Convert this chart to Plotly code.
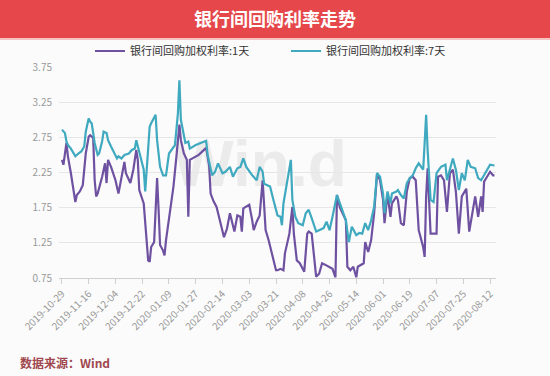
import plotly.graph_objects as go

title_text = "银行间回购利率走势"
series_1d_name = "银行间回购加权利率:1天"
series_7d_name = "银行间回购加权利率:7天"
source_text = "数据来源：Wind"
watermark_text = "Win.d"

dates_1d = [
    "2019-10-29", "2019-10-30", "2019-11-01", "2019-11-02", "2019-11-04", "2019-11-07", "2019-11-08",
    "2019-11-10", "2019-11-12", "2019-11-14", "2019-11-16", "2019-11-17", "2019-11-19", "2019-11-20",
    "2019-11-21", "2019-11-22", "2019-11-25", "2019-11-27", "2019-11-28", "2019-11-29", "2019-12-01",
    "2019-12-04", "2019-12-06", "2019-12-08", "2019-12-10", "2019-12-11", "2019-12-14", "2019-12-16",
    "2019-12-18", "2019-12-19", "2019-12-20", "2019-12-23", "2019-12-24", "2019-12-26", "2019-12-27",
    "2019-12-28", "2019-12-30", "2020-01-01", "2020-01-02", "2020-01-03", "2020-01-05", "2020-01-06",
    "2020-01-07", "2020-01-10", "2020-01-12", "2020-01-14", "2020-01-16", "2020-01-17", "2020-01-19",
    "2020-01-21", "2020-01-22", "2020-01-23", "2020-01-25", "2020-01-29", "2020-02-03", "2020-02-05",
    "2020-02-06", "2020-02-08", "2020-02-10", "2020-02-12", "2020-02-15", "2020-02-17", "2020-02-19",
    "2020-02-22", "2020-02-24", "2020-02-26", "2020-02-27", "2020-02-28", "2020-03-01", "2020-03-03",
    "2020-03-05", "2020-03-06", "2020-03-08", "2020-03-10", "2020-03-12", "2020-03-13", "2020-03-14",
    "2020-03-16", "2020-03-18", "2020-03-21", "2020-03-22", "2020-03-24", "2020-03-26", "2020-03-27",
    "2020-03-30", "2020-04-01", "2020-04-02", "2020-04-04", "2020-04-06", "2020-04-09", "2020-04-11",
    "2020-04-12", "2020-04-14", "2020-04-17", "2020-04-19", "2020-04-21", "2020-04-23", "2020-04-26",
    "2020-04-28", "2020-04-30", "2020-05-01", "2020-05-03", "2020-05-06", "2020-05-07", "2020-05-08",
    "2020-05-10", "2020-05-12", "2020-05-14", "2020-05-15", "2020-05-17", "2020-05-19", "2020-05-20",
    "2020-05-22", "2020-05-24", "2020-05-26", "2020-05-28", "2020-05-30", "2020-06-01", "2020-06-02",
    "2020-06-04", "2020-06-06", "2020-06-07", "2020-06-10", "2020-06-11", "2020-06-13", "2020-06-15",
    "2020-06-17", "2020-06-19", "2020-06-21", "2020-06-23", "2020-06-25", "2020-06-28", "2020-06-29",
    "2020-06-30", "2020-07-01", "2020-07-03", "2020-07-07", "2020-07-08", "2020-07-10", "2020-07-12",
    "2020-07-14", "2020-07-16", "2020-07-18", "2020-07-20", "2020-07-22", "2020-07-24", "2020-07-27",
    "2020-07-29", "2020-07-31", "2020-08-02", "2020-08-04", "2020-08-06", "2020-08-07", "2020-08-08",
    "2020-08-10", "2020-08-12", "2020-08-14", "2020-08-15",
]
rate_1d = [
    2.43, 2.36, 2.67, 2.48, 2.24, 1.83, 1.93,
    1.98, 2.07, 2.52, 2.76, 2.78, 2.74, 2.14,
    1.91, 1.95, 2.19, 2.38, 2.10, 2.43, 2.33,
    2.14, 1.95, 2.19, 2.40, 2.24, 2.10, 2.29,
    2.57, 2.43, 2.00, 1.81, 1.57, 1.00, 0.98,
    1.19, 1.26, 2.17, 1.72, 1.22, 1.14, 1.07,
    1.29, 1.72, 2.05, 2.48, 2.93, 2.71, 2.52,
    2.43, 1.62, 2.43, 2.45, 2.50, 2.60, 2.35,
    1.95, 1.84, 1.76, 1.57, 1.33, 1.45, 1.67,
    1.41, 1.64, 1.62, 1.41, 1.74, 1.76, 1.79,
    1.57, 1.43, 1.55, 1.64, 2.14, 1.76, 1.43,
    1.29, 1.10, 0.86, 0.86, 0.88, 0.86, 1.10,
    1.38, 1.76, 1.38, 1.00, 0.96, 0.84, 1.38,
    1.41, 1.38, 0.77, 0.81, 0.96, 0.94, 0.91,
    0.88, 0.76, 1.93, 1.75, 1.61, 1.57, 0.91,
    0.86, 0.91, 0.76, 0.91, 0.94, 0.96, 1.26,
    1.12, 1.29, 1.67, 2.24, 2.14, 1.86, 1.53,
    1.95, 1.62, 1.81, 1.91, 1.86, 1.53, 1.50,
    1.98, 2.17, 2.19, 2.14, 1.43, 1.19, 1.05,
    1.91, 2.31, 1.38, 1.38, 2.19, 2.21, 2.14,
    1.69, 2.24, 2.29, 1.98, 1.38, 1.91, 2.02,
    1.41, 1.67, 1.91, 1.62, 1.91, 1.69, 2.12,
    2.19, 2.26, 2.21, 2.21,
]

dates_7d = [
    "2019-10-29", "2019-10-31", "2019-11-01", "2019-11-02", "2019-11-04", "2019-11-07", "2019-11-09",
    "2019-11-11", "2019-11-13", "2019-11-14", "2019-11-16", "2019-11-17", "2019-11-18", "2019-11-20",
    "2019-11-22", "2019-11-23", "2019-11-25", "2019-11-26", "2019-11-28", "2019-11-29", "2019-12-01",
    "2019-12-04", "2019-12-05", "2019-12-06", "2019-12-08", "2019-12-10", "2019-12-13", "2019-12-15",
    "2019-12-17", "2019-12-18", "2019-12-19", "2019-12-21", "2019-12-23", "2019-12-24", "2019-12-26",
    "2019-12-27", "2019-12-28", "2019-12-30", "2019-12-31", "2020-01-01", "2020-01-03", "2020-01-05",
    "2020-01-07", "2020-01-09", "2020-01-11", "2020-01-13", "2020-01-15", "2020-01-16", "2020-01-17",
    "2020-01-19", "2020-01-20", "2020-01-22", "2020-01-23", "2020-01-27", "2020-02-03", "2020-02-04",
    "2020-02-05", "2020-02-07", "2020-02-09", "2020-02-11", "2020-02-14", "2020-02-16", "2020-02-19",
    "2020-02-21", "2020-02-24", "2020-02-26", "2020-02-28", "2020-03-01", "2020-03-05", "2020-03-08",
    "2020-03-10", "2020-03-12", "2020-03-13", "2020-03-15", "2020-03-17", "2020-03-19", "2020-03-22",
    "2020-03-24", "2020-03-25", "2020-03-26", "2020-03-28", "2020-03-31", "2020-04-01", "2020-04-03",
    "2020-04-05", "2020-04-08", "2020-04-10", "2020-04-12", "2020-04-14", "2020-04-17", "2020-04-19",
    "2020-04-22", "2020-04-24", "2020-04-26", "2020-04-28", "2020-05-01", "2020-05-03", "2020-05-07",
    "2020-05-09", "2020-05-11", "2020-05-14", "2020-05-16", "2020-05-18", "2020-05-20", "2020-05-22",
    "2020-05-24", "2020-05-26", "2020-05-28", "2020-05-30", "2020-06-01", "2020-06-02", "2020-06-04",
    "2020-06-06", "2020-06-07", "2020-06-10", "2020-06-11", "2020-06-13", "2020-06-15", "2020-06-17",
    "2020-06-19", "2020-06-21", "2020-06-23", "2020-06-25", "2020-06-27", "2020-06-28", "2020-06-29",
    "2020-06-30", "2020-07-01", "2020-07-03", "2020-07-05", "2020-07-07", "2020-07-10", "2020-07-13",
    "2020-07-14", "2020-07-16", "2020-07-18", "2020-07-20", "2020-07-22", "2020-07-24", "2020-07-26",
    "2020-07-28", "2020-07-30", "2020-08-02", "2020-08-04", "2020-08-06", "2020-08-08", "2020-08-11",
    "2020-08-12", "2020-08-15",
]
rate_7d = [
    2.86, 2.81, 2.69, 2.64, 2.59, 2.48, 2.52,
    2.55, 2.62, 2.83, 3.02, 2.97, 2.95, 2.67,
    2.50, 2.52, 2.69, 2.83, 2.81, 2.71, 2.62,
    2.48, 2.45, 2.48, 2.45, 2.50, 2.52, 2.57,
    2.59, 2.71, 2.62, 2.43, 2.29, 1.98, 2.52,
    2.90, 2.95, 3.02, 3.07, 2.71, 2.33, 2.21,
    2.21, 2.52, 2.59, 2.64, 3.09, 3.56, 3.00,
    2.76, 2.67, 2.69, 2.59, 2.64, 2.70, 2.50,
    2.40, 2.21, 2.26, 2.38, 2.24, 2.26, 2.33,
    2.19, 2.31, 2.33, 2.45, 2.33, 2.21, 2.14,
    2.33, 2.26, 2.09, 2.07, 2.05, 1.88, 1.64,
    1.62, 1.50, 1.81, 2.05, 2.43, 1.86, 1.62,
    1.53, 1.50, 1.67, 1.72, 1.60, 1.41, 1.43,
    1.46, 1.55, 1.43, 1.62, 1.93, 1.81, 1.57,
    1.26, 1.48, 1.36, 1.39, 1.38, 1.53, 1.43,
    1.57, 1.76, 2.24, 2.19, 1.95, 1.67, 1.98,
    1.81, 1.95, 1.98, 2.00, 1.93, 1.88, 2.10,
    2.17, 2.21, 2.31, 2.38, 2.31, 2.29, 2.67,
    3.07, 2.57, 1.86, 1.83, 2.24, 2.33, 2.36,
    2.14, 2.29, 2.45, 2.29, 2.00, 2.24, 2.14,
    2.43, 2.33, 2.31, 2.17, 2.14, 2.21, 2.33,
    2.36, 2.35,
]

y_ticks = [0.75, 1.25, 1.75, 2.25, 2.75, 3.25, 3.75]
x_first_tick = "2019-10-29"
x_range = ["2019-10-27", "2020-08-16"]

FONT = "Noto Sans CJK SC, Noto Sans, sans-serif"
PURPLE = "#6e51a0"
TEAL = "#3ea9bf"

fig = go.Figure()
fig.add_trace(go.Scatter(x=dates_1d, y=rate_1d, mode="lines", name=series_1d_name,
                         line=dict(color=PURPLE, width=2.2)))
fig.add_trace(go.Scatter(x=dates_7d, y=rate_7d, mode="lines", name=series_7d_name,
                         line=dict(color=TEAL, width=2.2)))

W, H = 550, 376
ml, mr, mt, mb = 59, 54, 67, 98
pw, ph = W - ml - mr, H - mt - mb

def px_x(p):
    return (p - ml) / pw

def px_y(p):
    return (H - mb - p) / ph

shapes = [
    dict(type="rect", xref="paper", yref="paper", x0=px_x(0), x1=px_x(W), y0=px_y(38), y1=px_y(0),
         fillcolor="#e5474b", line=dict(width=0), layer="below"),
    dict(type="rect", xref="paper", yref="paper", x0=px_x(0), x1=px_x(W), y0=px_y(40), y1=px_y(38),
         fillcolor="#f6c3c3", line=dict(width=0), layer="below"),
    dict(type="rect", xref="paper", yref="paper", x0=px_x(180), x1=px_x(340), y0=px_y(196), y1=px_y(120),
         fillcolor="rgba(0,0,0,0)", line=dict(width=0), layer="below",
         label=dict(text="<b>" + watermark_text + "</b>",
                    font=dict(family="Liberation Sans Narrow, Liberation Sans, Arial", size=64, color="#ebebeb"),
                    textposition="middle center")),
]

fig.update_layout(
    width=W, height=H,
    margin=dict(l=ml, r=mr, t=mt, b=mb, autoexpand=False),
    paper_bgcolor="#fbfbfb", plot_bgcolor="rgba(0,0,0,0)",
    font=dict(family=FONT, color="#999999", size=10),
    shapes=shapes,
    title=dict(text="<b>" + title_text + "</b>", x=0.5, xanchor="center", y=1 - 20 / H, yanchor="middle",
               yref="container", font=dict(family=FONT, size=18, color="white")),
    showlegend=True,
    legend=dict(orientation="h", x=90 / W, xanchor="left", xref="container", y=1 - 51 / H, yanchor="middle",
                yref="container", font=dict(family=FONT, size=11, color="#333333"),
                bgcolor="rgba(0,0,0,0)", entrywidth=151),
    annotations=[dict(text="<b>" + source_text + "</b>", xref="paper", yref="paper",
                      x=px_x(18), y=px_y(362), xanchor="left", yanchor="middle", showarrow=False,
                      font=dict(family=FONT, size=12, color="#a0474f"))],
)
fig.update_xaxes(type="date", range=x_range, tick0=x_first_tick, dtick=18 * 86400000, tickformat="%Y-%m-%d",
                 tickangle=-45, showgrid=False, showline=True, linecolor="#cfcfcf", linewidth=1,
                 ticks="outside", ticklen=5, tickcolor="#cfcfcf", tickfont=dict(size=10, color="#999999"),
                 zeroline=False)
fig.update_yaxes(range=[0.75, 3.75], tickvals=y_ticks, tickformat=".2f", showgrid=True, gridcolor="#e6e6e6",
                 gridwidth=1, zeroline=False, showline=False, ticklabelstandoff=6,
                 tickfont=dict(size=10, color="#999999"))

fig.write_html("out.html", post_script="document.body.style.margin='0';",
               config={"displayModeBar": False})
